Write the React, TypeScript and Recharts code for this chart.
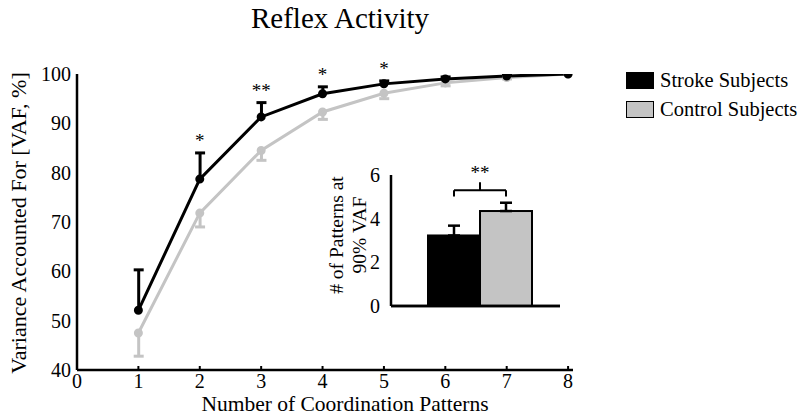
import React from "react";
import {
  Bar,
  BarChart,
  ComposedChart,
  ErrorBar,
  LabelList,
  Line,
  ReferenceLine,
  XAxis,
  YAxis,
} from "recharts";

const patterns = [1, 2, 3, 4, 5, 6, 7, 8];
const strokeVaf = [52.1, 78.7, 91.3, 96.0, 98.0, 99.0, 99.6, 100];
const strokeErrUp = [8.2, 5.3, 2.9, 1.4, 0.6, 0.4, 0.2, 0];
const controlVaf = [47.5, 71.8, 84.5, 92.3, 96.1, 98.2, 99.3, 100];
const controlErrDown = [4.7, 2.8, 2.0, 1.5, 1.1, 0.6, 0.3, 0];
const significance = ["", "*", "**", "*", "*", "", "", ""];

const groups = ["Stroke Subjects", "Control Subjects"];
const patternsAt90 = [3.23, 4.35];
const patternsErrUp = [0.45, 0.38];

const xTicks = [0, 1, 2, 3, 4, 5, 6, 7, 8];
const yTicks = [40, 50, 60, 70, 80, 90, 100];
const insetTicks = [0, 2, 4, 6];

const FONT = '"Liberation Serif", "Times New Roman", serif';
const GRAY = "#c4c4c4";

const lineData = patterns.map((p, i) => ({
  n: p,
  stroke: strokeVaf[i],
  strokeRange: [strokeVaf[i], strokeVaf[i] + strokeErrUp[i]],
  control: controlVaf[i],
  controlRange: [controlVaf[i] - controlErrDown[i], controlVaf[i]],
  starY: strokeVaf[i] + strokeErrUp[i],
  star: significance[i],
}));

const barData = groups.map((g, i) => ({
  group: g,
  value: patternsAt90[i],
  err: [0, patternsErrUp[i]],
  color: i === 0 ? "#000000" : GRAY,
}));

// one-sided error bar: stem plus a cap on the far end only
const whisker = (color: string, capAtTop: boolean) => (p: any) => {
  if (!p.height) return <g />;
  const cx = p.x + p.width / 2;
  const capY = capAtTop ? p.y : p.y + p.height;
  return (
    <g>
      <line x1={cx} y1={p.y} x2={cx} y2={p.y + p.height} stroke={color} strokeWidth={3} />
      <line x1={cx - 5} y1={capY} x2={cx + 5} y2={capY} stroke={color} strokeWidth={3} />
    </g>
  );
};

const BracketLabel = (props: any) => {
  const vb = props.viewBox || {};
  const cx = vb.x + vb.width / 2;
  return (
    <g>
      <line x1={cx} y1={vb.y} x2={cx} y2={vb.y - 8} stroke="#000" strokeWidth={2} />
      <text x={cx} y={vb.y - 11} textAnchor="middle" fontFamily={FONT} fontSize={19} fill="#000">
        **
      </text>
    </g>
  );
};

export default function App() {
  return (
    <div style={{ position: "relative", width: 802, height: 416, overflow: "hidden", background: "#fff", fontFamily: FONT }}>
      <style>{`
        html, body { margin: 0; padding: 0; overflow: hidden; }
        .recharts-wrapper text { font-family: "Liberation Serif", "Times New Roman", serif !important; }
      `}</style>
      <div style={{ position: "absolute", left: 0, top: 0 }}>
        <ComposedChart
          width={802}
          height={416}
          data={lineData}
          margin={{ top: 74, right: 229, bottom: 0, left: 0 }}
          barGap={-10}
        >
          <text x={340} y={28} textAnchor="middle" fontFamily={FONT} fontSize={29} fill="#000">
            Reflex Activity
          </text>
          <XAxis
            dataKey="n"
            type="number"
            domain={[0, 8.08]}
            ticks={xTicks}
            tickSize={-4}
            tickMargin={8}
            tick={{ fontSize: 20, fill: "#000", fontFamily: FONT }}
            stroke="#000"
            strokeWidth={2.5}
            tickLine={{ stroke: "#000", strokeWidth: 2 }}
            height={46}
          />
          <YAxis
            type="number"
            domain={[40, 100]}
            ticks={yTicks}
            tickSize={-4}
            tickMargin={10}
            tick={{ fontSize: 20, fill: "#000", fontFamily: FONT }}
            stroke="#000"
            strokeWidth={2.5}
            tickLine={false}
            width={77}
            allowDataOverflow
          />
          <text x={345} y={411} textAnchor="middle" fontFamily={FONT} fontSize={21.5} fill="#000">
            Number of Coordination Patterns
          </text>
          <text
            transform="translate(26,223) rotate(-90)"
            textAnchor="middle"
            fontFamily={FONT}
            fontSize={22}
            fill="#000"
          >
            Variance Accounted For [VAF, %]
          </text>
          <Bar dataKey="controlRange" barSize={10} isAnimationActive={false} shape={whisker(GRAY, false)} />
          <Bar dataKey="strokeRange" barSize={10} isAnimationActive={false} shape={whisker("#000", true)} />
          <Line
            dataKey="control"
            stroke={GRAY}
            strokeWidth={3}
            dot={{ r: 3, fill: GRAY, stroke: GRAY }}
            isAnimationActive={false}
          />
          <Line
            dataKey="stroke"
            stroke="#000"
            strokeWidth={3}
            dot={{ r: 3, fill: "#000", stroke: "#000" }}
            isAnimationActive={false}
          />
          <Line
            dataKey="starY"
            stroke="none"
            dot={false}
            activeDot={false}
            isAnimationActive={false}
          >
            <LabelList dataKey="star" position="top" offset={6} fontSize={19} fill="#000" fontFamily={FONT} />
          </Line>
        </ComposedChart>
      </div>

      <div style={{ position: "absolute", left: 0, top: 0 }}>
        <BarChart
          width={560}
          height={320}
          data={barData}
          margin={{ top: 175, right: 0, bottom: 13, left: 351 }}
          barCategoryGap={0}
          barGap={0}
        >
          <XAxis
            dataKey="group"
            type="category"
            tick={false}
            tickLine={false}
            stroke="#000"
            strokeWidth={2.5}
            padding={{ left: 37, right: 28 }}
            height={1}
          />
          <YAxis
            type="number"
            domain={[0, 6]}
            ticks={insetTicks}
            tickLine={false}
            tickMargin={5}
            tick={{ fontSize: 20, fill: "#000", fontFamily: FONT }}
            stroke="#000"
            strokeWidth={2.5}
            width={40}
          />
          <ReferenceLine y={0} stroke="#000" strokeWidth={2.5} />
          <Bar dataKey="value" isAnimationActive={false} shape={(p: any) => (
            <rect x={p.x} y={p.y} width={p.width} height={p.height} fill={p.payload.color} stroke="#000" strokeWidth={2} />
          )}>
            <ErrorBar dataKey="err" width={6} stroke="#000" strokeWidth={2.5} />
          </Bar>
          <ReferenceLine
            segment={[{ x: groups[0], y: 5.3 }, { x: groups[1], y: 5.3 }]}
            stroke="#000"
            strokeWidth={2}
            label={<BracketLabel />}
          />
          <ReferenceLine segment={[{ x: groups[0], y: 5.02 }, { x: groups[0], y: 5.3 }]} stroke="#000" strokeWidth={2} />
          <ReferenceLine segment={[{ x: groups[1], y: 5.02 }, { x: groups[1], y: 5.3 }]} stroke="#000" strokeWidth={2} />
        </BarChart>
      </div>

      <svg style={{ position: "absolute", left: 0, top: 0 }} width={802} height={416}>
        <g transform="translate(343,235) rotate(-90)">
          <text x={0} y={0} textAnchor="middle" fontFamily={FONT} fontSize={19.5} fill="#000">
            # of Patterns at
          </text>
          <text x={0} y={23} textAnchor="middle" fontFamily={FONT} fontSize={19.5} fill="#000">
            90% VAF
          </text>
        </g>
      </svg>

      <div style={{ position: "absolute", left: 626, top: 66, fontSize: 20.5, lineHeight: "29px", color: "#000", whiteSpace: "nowrap" }}>
        {groups.map((g, i) => (
          <div key={g} style={{ display: "flex", alignItems: "center", height: 29 }}>
            <span
              style={{
                display: "inline-block",
                width: 26,
                height: 15,
                background: barData[i].color,
                border: "1px solid #000",
                marginRight: 6,
              }}
            />
            {g}
          </div>
        ))}
      </div>
    </div>
  );
}
